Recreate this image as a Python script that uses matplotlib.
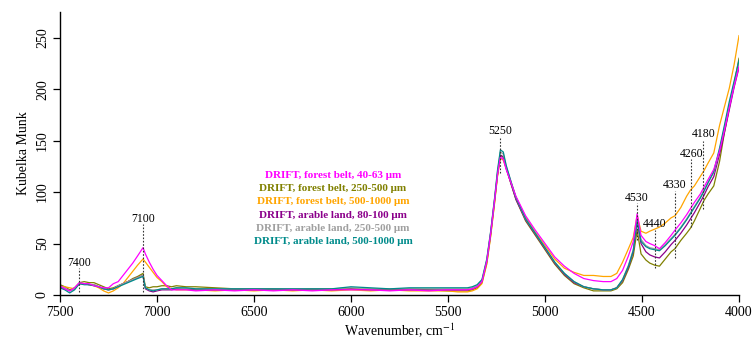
import matplotlib
matplotlib.use("Agg")
import matplotlib.pyplot as plt
import numpy as np

plt.rcParams['font.family'] = ['Liberation Serif', 'DejaVu Serif']
plt.rcParams['mathtext.fontset'] = 'stix'

wavenumber = [
    7500, 7475, 7450, 7425, 7400, 7375, 7350, 7325, 7300, 7275, 7250, 7225, 7200,
    7175, 7150, 7125, 7100, 7072, 7060, 7040, 7020, 7000, 6975, 6950, 6925,
    6900, 6850, 6800, 6700, 6600, 6500, 6400, 6300, 6200, 6100, 6000, 5900, 5800,
    5700, 5600, 5500, 5450, 5400,
    5375, 5350, 5325, 5300, 5280, 5260, 5245, 5230, 5215, 5200, 5175, 5150, 5100,
    5050, 5000, 4950, 4900, 4850, 4800, 4750, 4700, 4660, 4630, 4600, 4570, 4545,
    4525, 4505, 4480, 4460, 4435, 4410, 4380, 4350, 4330, 4300, 4270, 4250, 4230,
    4200, 4180, 4160, 4130, 4100, 4075, 4050, 4025, 4000,
]

forest_40_63 = [
    9, 6, 4, 7, 12, 11, 11, 9, 8, 7, 7, 11, 13,
    19, 25, 31, 38, 46, 40, 32, 25, 19, 14, 9, 5,
    5, 5, 4, 5, 4, 5, 4, 5, 4, 5, 5, 5, 4,
    5, 4, 5, 5, 5,
    6, 8, 13, 33, 60, 92, 117, 134, 132, 122, 109, 96, 77,
    63, 50, 37, 28, 21, 16, 14, 13, 13, 16, 24, 38, 52,
    79, 58, 52, 50, 48, 45, 51, 58, 63, 70, 78, 84, 90,
    98, 105, 112, 122, 140, 160, 182, 203, 222,
]

forest_250_500 = [
    10, 8, 5, 7, 12, 13, 12, 12, 10, 8, 6, 7, 9,
    11, 13, 16, 18, 21, 8, 7, 8, 8, 9, 9, 8,
    9, 8, 8, 7, 6, 6, 6, 5, 6, 6, 6, 6, 5,
    6, 5, 4, 4, 4,
    5, 7, 12, 31, 58, 90, 116, 136, 134, 124, 108, 93, 72,
    58, 44, 30, 19, 11, 7, 4, 4, 4, 6, 12, 25, 38,
    63, 40, 34, 31, 29, 28, 35, 42, 45, 53, 60, 65, 72,
    84, 92, 98, 106, 130, 158, 182, 205, 230,
]

forest_500_1000 = [
    8, 8, 7, 6, 11, 11, 10, 9, 7, 4, 2, 4, 7,
    11, 17, 23, 29, 35, 32, 27, 22, 17, 13, 8, 6,
    5, 5, 5, 4, 5, 4, 5, 4, 5, 4, 5, 4, 5,
    4, 4, 4, 3, 3,
    4, 6, 11, 30, 57, 89, 115, 133, 131, 123, 109, 95, 76,
    61, 48, 35, 26, 22, 19, 19, 18, 18, 21, 32, 45, 56,
    77, 62, 60, 62, 64, 66, 70, 75, 77, 85, 96, 102, 106,
    115, 121, 128, 138, 165, 183, 201, 224, 252,
]

arable_80_100 = [
    8, 6, 4, 6, 11, 11, 10, 10, 8, 6, 5, 6, 9,
    11, 13, 15, 17, 19, 6, 4, 3, 4, 5, 5, 5,
    6, 6, 5, 5, 5, 5, 5, 5, 5, 5, 6, 5, 5,
    5, 5, 5, 5, 5,
    6, 8, 13, 33, 60, 92, 117, 136, 134, 123, 108, 93, 73,
    59, 45, 31, 20, 12, 8, 6, 5, 5, 7, 14, 27, 42,
    71, 50, 42, 39, 37, 36, 42, 49, 53, 60, 68, 74, 80,
    90, 97, 105, 115, 137, 158, 180, 202, 221,
]

arable_250_500 = [
    8, 7, 4, 6, 11, 11, 10, 10, 8, 6, 5, 6, 9,
    11, 13, 15, 17, 19, 7, 5, 5, 5, 6, 6, 6,
    7, 6, 6, 6, 6, 6, 6, 6, 6, 6, 7, 6, 6,
    6, 6, 6, 6, 6,
    7, 9, 14, 34, 61, 93, 119, 139, 137, 125, 110, 95, 74,
    60, 46, 32, 21, 13, 8, 6, 5, 5, 7, 15, 29, 44,
    74, 54, 48, 46, 45, 44, 49, 55, 59, 66, 74, 80, 86,
    95, 102, 109, 119, 141, 163, 185, 206, 226,
]

arable_500_1000 = [
    7, 5, 2, 5, 11, 10, 10, 9, 8, 6, 5, 6, 8,
    10, 12, 14, 16, 18, 7, 5, 4, 5, 6, 6, 6,
    7, 7, 6, 6, 6, 6, 6, 6, 6, 6, 8, 7, 6,
    7, 7, 7, 7, 7,
    8, 10, 15, 35, 62, 94, 121, 141, 139, 126, 110, 95, 74,
    60, 46, 32, 21, 13, 8, 6, 5, 5, 7, 15, 28, 43,
    73, 52, 47, 45, 44, 43, 48, 54, 58, 65, 73, 79, 85,
    94, 101, 109, 120, 143, 165, 188, 208, 228,
]

series_labels = [
    "DRIFT, forest belt, 40-63 μm",
    "DRIFT, forest belt, 250-500 μm",
    "DRIFT, forest belt, 500-1000 μm",
    "DRIFT, arable land, 80-100 μm",
    "DRIFT, arable land, 250-500 μm",
    "DRIFT, arable land, 500-1000 μm",
]
series_values = [forest_40_63, forest_250_500, forest_500_1000,
                 arable_80_100, arable_250_500, arable_500_1000]
colors = ['#FF00FF', '#808000', '#FFA500', '#8B008B', '#A0A0A0', '#008B8B']

peak_labels = ["7400", "7100", "5250", "4530", "4440", "4330", "4260", "4180"]
peak_pos = [7402, 7072, 5230, 4525, 4435, 4330, 4245, 4184]
peak_line_top = [26, 69, 153, 89, 63, 101, 132, 150]
peak_line_bottom = [3, 3, 119, 53, 26, 36, 66, 84]
peak_text_y = [31, 74, 159, 94, 69, 107, 137, 156]

x_ticks = [7500, 7000, 6500, 6000, 5500, 5000, 4500, 4000]
y_ticks = [0, 50, 100, 150, 200, 250]

fig = plt.figure(figsize=(7.54, 3.45), dpi=100)
ax = fig.add_axes([60/754, 50/345, 679/754, 283/345])

order = [1, 2, 3, 4, 5, 0]
for i in order:
    ax.plot(wavenumber, series_values[i], color=colors[i], lw=0.9)

for lab, x, yt, yb, ty in zip(peak_labels, peak_pos, peak_line_top, peak_line_bottom, peak_text_y):
    ax.plot([x, x], [yb, yt], color='#333333', lw=0.8, ls=(0, (1.5, 1.5)))
    ax.text(x, ty, lab, ha='center', va='center', fontsize=8.5)

ax.set_xlim(7500, 4000)
ax.set_ylim(0, 275)
ax.set_xticks(x_ticks)
ax.set_yticks(y_ticks)
ax.set_xticklabels([str(t) for t in x_ticks], fontsize=10)
ax.set_yticklabels([str(t) for t in y_ticks], fontsize=10, rotation=90, va='center')
ax.tick_params(axis='both', direction='out', length=5, width=0.9, colors='black')
ax.tick_params(axis='y', pad=3)
ax.tick_params(axis='x', pad=3)
for s in ['top', 'right']:
    ax.spines[s].set_visible(False)
for s in ['left', 'bottom']:
    ax.spines[s].set_linewidth(1.0)

ax.set_xlabel(r"Wavenumber, cm$^{-1}$", fontsize=10, labelpad=2)
ax.set_ylabel("Kubelka Munk", fontsize=10, labelpad=4)

leg_y = [175.7, 188.7, 202, 215.3, 228.7, 242]
for lab, c, py in zip(series_labels, colors, leg_y):
    fig.text(333/754, 1 - py/345, lab, color=c, fontsize=8, fontweight='bold',
             ha='center', va='center')

fig.savefig("out.png", dpi=100)
